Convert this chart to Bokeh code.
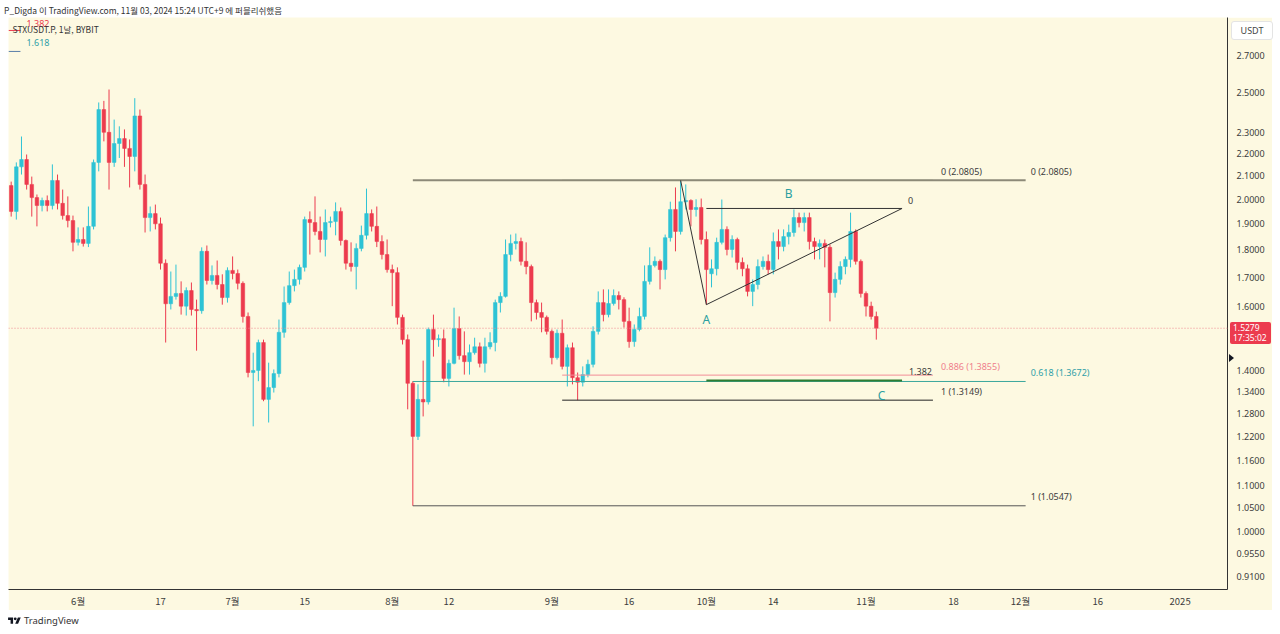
import numpy as np
import pandas as pd
from bokeh.plotting import figure
from bokeh.models import (Range1d, FixedTicker, PrintfTickFormatter, Span, Label,
                          Div, ColumnDataSource)
from bokeh.layouts import column
from bokeh.embed import file_html
from bokeh.resources import INLINE

# ---------------- data ----------------
start_date = "2024-05-19"
opens = [2.058, 1.950, 2.140, 2.173, 2.063, 2.007, 1.974, 1.995, 1.974, 2.080,
         1.983, 1.933, 1.913, 1.828, 1.839, 1.824, 1.890, 2.160, 2.412, 2.300,
         2.160, 2.247, 2.270, 2.224, 2.187, 2.380, 2.063, 1.925, 1.941, 1.900,
         1.750, 1.608, 1.633, 1.643, 1.600, 1.653, 1.589, 1.585, 1.794, 1.688,
         1.706, 1.674, 1.629, 1.724, 1.713, 1.678, 1.566, 1.393, 1.399, 1.483,
         1.317, 1.350, 1.390, 1.515, 1.612, 1.670, 1.692, 1.735, 1.917, 1.905,
         1.870, 1.839, 1.905, 1.909, 1.950, 1.835, 1.750, 1.738, 1.805, 1.855,
         1.941, 1.890, 1.831, 1.782, 1.727, 1.716, 1.563, 1.492, 1.362, 1.219,
         1.317, 1.310, 1.524, 1.492, 1.495, 1.376, 1.420, 1.527, 1.443, 1.425,
         1.452, 1.470, 1.420, 1.470, 1.483, 1.612, 1.633, 1.782, 1.824, 1.831,
         1.757, 1.738, 1.612, 1.579, 1.563, 1.518, 1.437, 1.512, 1.411, 1.467,
         1.378, 1.365, 1.387, 1.417, 1.518, 1.612, 1.572, 1.609, 1.636, 1.622,
         1.550, 1.486, 1.524, 1.566, 1.685, 1.742, 1.757, 1.727, 1.846, 1.958,
         1.870, 1.990, 1.995, 1.958, 1.966, 1.839, 1.712, 1.730, 1.828, 1.878,
         1.801, 1.839, 1.753, 1.730, 1.650, 1.674, 1.738, 1.757, 1.727, 1.831,
         1.812, 1.850, 1.866, 1.925, 1.905, 1.925, 1.831, 1.812, 1.824, 1.809,
         1.646, 1.692, 1.738, 1.764, 1.870, 1.757, 1.643, 1.600, 1.566]
highs = [2.075, 2.160, 2.280, 2.196, 2.097, 2.020, 2.007, 2.016, 2.151, 2.106,
         2.041, 2.012, 1.933, 1.886, 1.886, 1.970, 2.173, 2.448, 2.456, 2.515,
         2.362, 2.329, 2.314, 2.266, 2.470, 2.412, 2.106, 1.970, 1.978, 1.925,
         1.764, 1.720, 1.745, 1.685, 1.664, 1.681, 1.622, 1.809, 1.816, 1.742,
         1.760, 1.710, 1.735, 1.775, 1.727, 1.685, 1.579, 1.452, 1.492, 1.492,
         1.422, 1.402, 1.556, 1.667, 1.720, 1.727, 1.745, 1.929, 1.950, 2.012,
         1.929, 1.958, 1.929, 1.987, 1.966, 1.839, 1.828, 1.824, 1.893, 2.045,
         1.958, 1.970, 1.855, 1.839, 1.745, 1.735, 1.572, 1.508, 1.368, 1.359,
         1.428, 1.530, 1.572, 1.508, 1.524, 1.431, 1.595, 1.566, 1.518, 1.477,
         1.498, 1.483, 1.498, 1.515, 1.622, 1.647, 1.839, 1.858, 1.862, 1.846,
         1.828, 1.745, 1.622, 1.612, 1.569, 1.524, 1.524, 1.556, 1.477, 1.483,
         1.393, 1.411, 1.431, 1.534, 1.650, 1.657, 1.657, 1.657, 1.650, 1.630,
         1.595, 1.540, 1.595, 1.742, 1.809, 1.775, 1.764, 1.858, 1.990, 2.050,
         2.0805, 2.063, 2.000, 2.000, 2.003, 1.870, 1.764, 1.846, 1.999, 1.890,
         1.855, 1.846, 1.771, 1.745, 1.692, 1.764, 1.775, 1.782, 1.866, 1.878,
         1.878, 1.897, 1.958, 1.945, 1.945, 1.945, 1.846, 1.839, 1.839, 1.820,
         1.716, 1.757, 1.775, 1.945, 1.878, 1.764, 1.650, 1.615, 1.582]
lows = [1.929, 1.917, 2.106, 2.041, 1.929, 1.890, 1.950, 1.950, 1.958, 1.958,
        1.917, 1.886, 1.794, 1.816, 1.812, 1.810, 1.878, 2.120, 2.257, 2.041,
        2.140, 2.180, 2.140, 2.050, 2.120, 2.041, 1.866, 1.870, 1.878, 1.727,
        1.483, 1.589, 1.622, 1.572, 1.569, 1.569, 1.458, 1.575, 1.674, 1.674,
        1.657, 1.605, 1.612, 1.692, 1.657, 1.546, 1.379, 1.245, 1.368, 1.312,
        1.255, 1.336, 1.379, 1.498, 1.605, 1.650, 1.674, 1.720, 1.782, 1.855,
        1.790, 1.775, 1.886, 1.855, 1.816, 1.727, 1.720, 1.657, 1.794, 1.839,
        1.870, 1.810, 1.764, 1.716, 1.600, 1.540, 1.477, 1.290, 1.0547, 1.210,
        1.271, 1.303, 1.440, 1.470, 1.365, 1.353, 1.417, 1.431, 1.387, 1.387,
        1.446, 1.408, 1.393, 1.462, 1.456, 1.579, 1.629, 1.757, 1.801, 1.742,
        1.710, 1.550, 1.556, 1.515, 1.508, 1.417, 1.431, 1.402, 1.353, 1.359,
        1.3149, 1.353, 1.379, 1.408, 1.508, 1.550, 1.563, 1.602, 1.589, 1.530,
        1.467, 1.470, 1.518, 1.556, 1.674, 1.735, 1.657, 1.692, 1.831, 1.794,
        1.858, 1.958, 1.890, 1.929, 1.820, 1.605, 1.664, 1.706, 1.820, 1.779,
        1.771, 1.727, 1.703, 1.633, 1.600, 1.657, 1.727, 1.710, 1.710, 1.764,
        1.794, 1.820, 1.850, 1.886, 1.870, 1.801, 1.764, 1.764, 1.735, 1.550,
        1.629, 1.674, 1.710, 1.735, 1.745, 1.629, 1.566, 1.556, 1.492]
closes = [1.950, 2.140, 2.173, 2.063, 2.007, 1.974, 1.995, 1.974, 2.080, 1.983,
          1.933, 1.913, 1.828, 1.839, 1.824, 1.890, 2.160, 2.412, 2.300, 2.160,
          2.247, 2.270, 2.224, 2.187, 2.380, 2.063, 1.925, 1.941, 1.900, 1.750,
          1.608, 1.633, 1.643, 1.600, 1.653, 1.589, 1.585, 1.794, 1.688, 1.706,
          1.674, 1.629, 1.724, 1.713, 1.678, 1.566, 1.393, 1.399, 1.483, 1.317,
          1.350, 1.390, 1.515, 1.612, 1.670, 1.692, 1.735, 1.917, 1.905, 1.870,
          1.839, 1.905, 1.909, 1.950, 1.835, 1.750, 1.738, 1.805, 1.855, 1.941,
          1.890, 1.831, 1.782, 1.727, 1.716, 1.563, 1.492, 1.362, 1.219, 1.317,
          1.310, 1.524, 1.492, 1.495, 1.376, 1.420, 1.527, 1.443, 1.425, 1.452,
          1.470, 1.420, 1.470, 1.483, 1.612, 1.633, 1.782, 1.824, 1.831, 1.757,
          1.738, 1.612, 1.579, 1.563, 1.518, 1.437, 1.512, 1.411, 1.467, 1.378,
          1.365, 1.387, 1.417, 1.518, 1.612, 1.572, 1.609, 1.636, 1.622, 1.550,
          1.486, 1.524, 1.566, 1.685, 1.742, 1.757, 1.727, 1.846, 1.958, 1.870,
          1.990, 1.995, 1.958, 1.966, 1.839, 1.727, 1.730, 1.828, 1.878, 1.801,
          1.839, 1.753, 1.730, 1.650, 1.674, 1.738, 1.757, 1.727, 1.831, 1.812,
          1.850, 1.866, 1.925, 1.905, 1.925, 1.831, 1.812, 1.824, 1.809, 1.646,
          1.692, 1.738, 1.764, 1.870, 1.757, 1.643, 1.600, 1.566, 1.5279]

last_price = 1.5279
countdown = "17:35:02"

y_ticks = [0.91, 0.955, 1.0, 1.05, 1.1, 1.16, 1.22, 1.28, 1.34, 1.4,
           1.6, 1.7, 1.8, 1.9, 2.0, 2.1, 2.2, 2.3, 2.5, 2.7]
x_tick_dates = ["2024-06-01", "2024-06-17", "2024-07-01", "2024-07-15", "2024-08-01",
                "2024-08-12", "2024-09-01", "2024-09-16", "2024-10-01", "2024-10-14",
                "2024-11-01", "2024-11-18", "2024-12-01", "2024-12-16", "2025-01-01"]
x_tick_labels = ["6월", "17", "7월", "15", "8월", "12", "9월", "16", "10월", "14",
                 "11월", "18", "12월", "16", "2025"]

# drawings
fib_a_dates = ["2024-08-05", "2024-12-02"]
fib_a_levels = [2.0805, 1.3672, 1.0547]
fib_a_texts = ["0 (2.0805)", "0.618 (1.3672)", "1 (1.0547)"]
fib_b_dates = ["2024-09-03", "2024-11-14"]
fib_b_levels = [2.0805, 1.3855, 1.3149]
fib_b_texts = ["0 (2.0805)", "0.886 (1.3855)", "1 (1.3149)"]
tri_dates = ["2024-09-26", "2024-10-01", "2024-11-08"]
tri_prices = [2.0805, 1.605, 1.962]
green_line_dates = ["2024-10-01", "2024-11-08"]
green_line_price = 1.370
wave_labels = ["A", "B", "C"]
wave_dates = ["2024-10-01", "2024-10-17", "2024-11-04"]
wave_prices = [1.556, 2.024, 1.328]

# ---------------- helpers ----------------
start = pd.Timestamp(start_date)


def di(s):
    return float((pd.Timestamp(s) - start).days)


BG = "#fdf9e1"
UP = "#2ec3d5"
DOWN = "#ec3b4e"
TXT = "#3c3c3c"
FONT = "Noto Sans"
KFONT = "Noto Sans CJK KR"

idx = np.arange(len(opens), dtype=float)
o = np.array(opens); h = np.array(highs); l = np.array(lows); c = np.array(closes)
col = np.where(c >= o, UP, DOWN)
src = ColumnDataSource(dict(x=idx, o=o, h=h, l=l, c=c,
                            top=np.maximum(o, c), bot=np.minimum(o, c), col=col))

X0, X1 = -0.52, 236.2
Y0, Y1 = 0.8856, 2.923

p = figure(frame_width=1219, frame_height=572, x_range=Range1d(X0, X1),
           y_range=Range1d(Y0, Y1), y_axis_type="log", y_axis_location="right",
           output_backend="svg", toolbar_location=None,
           min_border_left=0, min_border_top=0, min_border_right=45, min_border_bottom=20)
p.margin = (0, 0, 0, 8)
p.background_fill_color = BG
p.border_fill_color = BG
p.outline_line_color = None
p.grid.visible = False

# axes
p.yaxis.ticker = FixedTicker(ticks=y_ticks)
p.yaxis.formatter = PrintfTickFormatter(format="%.4f")
p.yaxis.major_tick_line_color = None
p.yaxis.minor_tick_line_color = None
p.yaxis.major_tick_out = 0
p.yaxis.major_tick_in = 0
p.yaxis.major_label_standoff = 9
p.yaxis.axis_line_color = "#333333"
p.yaxis.major_label_text_font = FONT
p.yaxis.major_label_text_font_size = "9px"
p.yaxis.major_label_text_color = TXT

xt = [di(d) for d in x_tick_dates]
p.xaxis.ticker = FixedTicker(ticks=xt)
p.xaxis.major_label_overrides = {t: lab for t, lab in zip(xt, x_tick_labels)}
p.xaxis.major_tick_line_color = None
p.xaxis.minor_tick_line_color = None
p.xaxis.major_tick_out = 0
p.xaxis.major_tick_in = 0
p.xaxis.major_label_standoff = 4
p.xaxis.axis_line_color = "#333333"
p.xaxis.major_label_text_font = KFONT
p.xaxis.major_label_text_font_size = "9.5px"
p.xaxis.major_label_text_color = TXT

# last price line
p.add_layout(Span(location=last_price, dimension="width", line_color="#ee8a92",
                  line_dash="1 2", line_width=1))

# candles
p.segment(x0="x", y0="h", x1="x", y1="l", color="col", line_width=1, source=src)
p.vbar(x="x", width=0.7, top="top", bottom="bot", fill_color="col", line_color="col",
       line_width=0.5, source=src)

# fib A
fa0, fa1 = di(fib_a_dates[0]), di(fib_a_dates[1])
fa_colors = ["#8d8a78", "#3aa79c", "#555555"]
fa_tcolors = ["#3c3c3c", "#2f9fa8", "#3c3c3c"]
p.segment(x0=[fa0] * 3, x1=[fa1] * 3, y0=fib_a_levels, y1=fib_a_levels,
          line_color=fa_colors, line_width=[2, 1, 1])
for lev, txt, tc in zip(fib_a_levels, fib_a_texts, fa_tcolors):
    p.add_layout(Label(x=fa1, y=lev, x_offset=5, y_offset=9, text=txt, text_color=tc,
                       text_font=FONT, text_font_size="9px", text_baseline="middle"))

# fib B
fb0, fb1 = di(fib_b_dates[0]), di(fib_b_dates[1])
fb_colors = ["#8d8a78", "#f28d98", "#222222"]
fb_tcolors = ["#3c3c3c", "#ef7f8c", "#3c3c3c"]
p.segment(x0=[fb0] * 3, x1=[fb1] * 3, y0=fib_b_levels, y1=fib_b_levels,
          line_color=fb_colors, line_width=1)
for lev, txt, tc in zip(fib_b_levels, fib_b_texts, fb_tcolors):
    p.add_layout(Label(x=fb1, y=lev, x_offset=8, y_offset=9, text=txt, text_color=tc,
                       text_font=FONT, text_font_size="9px", text_baseline="middle"))
p.add_layout(Label(x=fb1, y=fib_b_levels[1], x_offset=-1, y_offset=4, text="1.382",
                   text_color="#3c3c3c", text_font=FONT, text_font_size="9px",
                   text_align="right", text_baseline="middle"))

# green line
p.segment(x0=[di(green_line_dates[0])], x1=[di(green_line_dates[1])],
          y0=[green_line_price], y1=[green_line_price], line_color="#2e7d32", line_width=2)

# triangle
tx = [di(d) for d in tri_dates]
p.line(x=tx, y=tri_prices, line_color="#333333", line_width=1)
p.segment(x0=[tx[1]], x1=[tx[2]], y0=[tri_prices[2]], y1=[tri_prices[2]],
          line_color="#333333", line_width=1)
p.add_layout(Label(x=tx[2], y=tri_prices[2], x_offset=6, y_offset=8, text="0",
                   text_color="#3c3c3c", text_font=FONT, text_font_size="9px",
                   text_baseline="middle"))

for lab, d, pr in zip(wave_labels, wave_dates, wave_prices):
    p.add_layout(Label(x=di(d), y=pr, text=lab, text_color="#2a9fa0", text_font=FONT,
                       text_font_size="12px", text_align="center", text_baseline="middle"))

# top-left partial fib levels
p.segment(x0=[X0, X0], x1=[1.8, 1.8], y0=[2.845, 2.723], y1=[2.845, 2.723],
          line_color=["#ec3b4e", "#5a7fa8"], line_width=1)
p.add_layout(Label(x=2.97, y=2.888, text="1.382", text_color="#ec3b4e", text_font=FONT,
                   text_font_size="9px", text_baseline="middle"))
p.add_layout(Label(x=2.97, y=2.774, text="1.618", text_color="#2f9fa8", text_font=FONT,
                   text_font_size="9px", text_baseline="middle"))

# legend text
p.add_layout(Label(x=0.26, y=2.852, text="STXUSDT.P, 1날, BYBIT", text_color="#333333",
                   text_font=KFONT, text_font_size="8.5px", text_baseline="middle"))

header = Div(text="P_Digda 이 TradingView.com, 11월 03, 2024 15:24 UTC+9 에 퍼블리쉬했음",
             width=1264, height=11,
             styles={"font-family": KFONT, "font-size": "8.5px", "color": "#333333",
                     "line-height": "8px", "white-space": "nowrap"})
header.margin = (6, 0, 0, 4)
logo_svg = ('<svg width="13" height="10" viewBox="0 0 36 28" style="vertical-align:middle;margin-right:3px">'
            '<path d="M14 22H7V11H0V4h14v18zM28 22h-8l7.5-18h8L28 22z" fill="#131722"/>'
            '<circle cx="20" cy="8" r="4" fill="#131722"/></svg>')
footer = Div(text=logo_svg + "TradingView", width=300, height=16,
             styles={"font-family": FONT, "font-size": "9.5px", "color": "#333333",
                     "white-space": "nowrap"})
footer.margin = (4, 0, 0, 8)

# right-axis overlays (currency box, last-price badge, marker)
usdt_box = Div(text="USDT", width=42, height=19,
               styles={"position": "absolute", "left": "1226px", "top": "16px",
                       "z-index": "10", "background": "white", "border": "1px solid #e4e4e4",
                       "border-radius": "3px", "font-family": FONT, "font-size": "9px",
                       "color": "#444444", "text-align": "center", "line-height": "17px",
                       "box-sizing": "border-box"})
badge = Div(text=f"{last_price:.4f}<br>{countdown}", width=41, height=22,
            styles={"position": "absolute", "left": "1225px", "top": "317px",
                    "z-index": "10", "background": DOWN, "border-radius": "2px",
                    "font-family": FONT, "font-size": "8.5px", "color": "white",
                    "line-height": "10px", "padding": "1px 3px", "box-sizing": "border-box"})
marker = Div(text="", width=6, height=9,
             styles={"position": "absolute", "left": "1224px", "top": "349px",
                     "z-index": "10", "width": "0", "height": "0",
                     "border-top": "4px solid transparent", "border-bottom": "4px solid transparent",
                     "border-left": "5px solid #131722"})

layout = column(header, p, footer, usdt_box, badge, marker, spacing=0)
open("out.html", "w").write(file_html(layout, INLINE))
